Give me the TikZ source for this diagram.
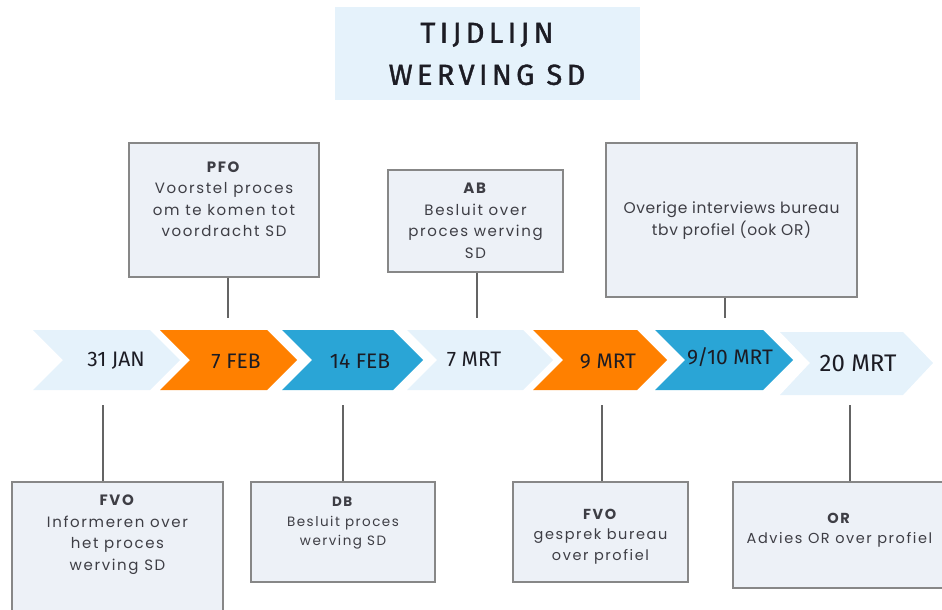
\documentclass[tikz,border=0pt]{standalone}
\usepackage{fontspec}
\usepackage{xcolor}
\usepackage{tikz}
\usetikzlibrary{positioning}
\newfontfamily\titlefont[LetterSpace=15, FakeBold=1.2]{Fira Sans}
\newfontfamily\datefont{Fira Sans}
\newfontfamily\cardfont[LetterSpace=11]{Poppins}
\newfontfamily\plainfont[LetterSpace=4]{Poppins}
\definecolor{wsdlight}{RGB}{229,242,251}
\definecolor{wsdorange}{RGB}{255,128,0}
\definecolor{wsdblue}{RGB}{42,165,214}
\definecolor{wsdcard}{RGB}{237,241,247}
\definecolor{wsdedge}{RGB}{135,135,135}
\definecolor{wsdlink}{RGB}{100,100,100}
\definecolor{wsdink}{RGB}{28,28,36}

\begin{document}
\begin{tikzpicture}[x=1pt, y=-1pt, line join=miter,
  card/.style={draw=wsdedge, fill=wsdcard, line width=1.3pt, inner sep=0pt},
  cardtext/.style={inner sep=0pt, align=center, text=wsdink!85,
    font=\cardfont\fontsize{15}{21.5}\selectfont},
  datelabel/.style={inner sep=0pt, text=wsdink, font=\datefont\fontsize{21}{24}\selectfont},
  link/.style={draw=wsdlink, line width=1.3pt}]

\useasboundingbox (0,0) rectangle (942,610);

%% title block
\fill[wsdlight] (335,7) rectangle (640,100);
\node[inner sep=0pt, align=center, text=wsdink,
  font=\titlefont\fontsize{29}{42}\selectfont] (title) at (487,54) {TIJDLIJN\\WERVING SD};

%% timeline chevrons -- from left to right
\fill[wsdlight]  (33,330)  -- (150,330) -- (180,360) -- (150,390) -- (33,390)  -- (63,360)  -- cycle;
\fill[wsdorange] (160,330) -- (267,330) -- (297,360) -- (267,390) -- (160,390) -- (190,360) -- cycle;
\fill[wsdblue]   (282,330) -- (393,330) -- (423,360) -- (393,390) -- (282,390) -- (312,360) -- cycle;
\fill[wsdlight]  (407,330) -- (523,330) -- (553,360) -- (523,390) -- (407,390) -- (437,360) -- cycle;
\fill[wsdorange] (533,330) -- (637,330) -- (667,360) -- (637,390) -- (533,390) -- (563,360) -- cycle;
\fill[wsdblue]   (655,330) -- (763,330) -- (793,360) -- (763,390) -- (655,390) -- (685,360) -- cycle;
\fill[wsdlight]  (780,332) -- (903,332) -- (933,363) -- (903,395) -- (780,395) -- (810,363) -- cycle;

%% dates on the chevrons
\node[datelabel] (jan31) at (116,361) {31 JAN};
\node[datelabel] (feb7)  at (236,361) {7 FEB};
\node[datelabel] (feb14) at (360,361) {14 FEB};
\node[datelabel] (mrt7)  at (474,359) {7 MRT};
\node[datelabel] (mrt9)  at (608,361) {9 MRT};
\node[datelabel] (mrt910) at (730,357) {9/10 MRT};
\node[datelabel, font=\datefont\fontsize{24}{26}\selectfont] (mrt20) at (858,363) {20 MRT};

%% cards above the timeline
\node[card, minimum width=190pt, minimum height=134pt] (pfo) at (224,210) {};
\node[cardtext, below=19pt of pfo.north] (pfotext)
  {\textbf{PFO}\\Voorstel proces\\om te komen tot\\voordracht SD};

\node[card, minimum width=175pt, minimum height=102pt] (ab) at (475.5,221) {};
\node[cardtext, below=13.5pt of ab.north] (abtext)
  {\textbf{AB}\\Besluit over\\proces werving\\SD};

\node[card, minimum width=251pt, minimum height=154pt] (overig) at (731.5,220) {};
\node[cardtext, font=\plainfont\fontsize{15.5}{22}\selectfont, below=59pt of overig.north] (overigtext)
  {Overige interviews bureau\\tbv profiel (ook OR)};

%% cards below the timeline
\node[card, minimum width=211pt, minimum height=132pt] (fvoa) at (117.5,548) {};
\node[cardtext, below=13.5pt of fvoa.north] (fvoatext)
  {\textbf{FVO}\\Informeren over\\het proces\\werving SD};

\node[card, minimum width=184pt, minimum height=100pt] (db) at (343,532) {};
\node[cardtext, font=\cardfont\fontsize{13.5}{19.5}\selectfont, below=15.5pt of db.north] (dbtext)
  {\textbf{DB}\\Besluit proces\\werving SD};

\node[card, minimum width=175pt, minimum height=100pt] (fvob) at (600.5,532) {};
\node[cardtext, font=\cardfont\fontsize{14.5}{20.5}\selectfont, below=27.5pt of fvob.north] (fvobtext)
  {\textbf{FVO}\\gesprek bureau\\over profiel};

\node[card, minimum width=213pt, minimum height=106pt] (or) at (839.5,535) {};
\node[cardtext, font=\cardfont\fontsize{14.5}{20.5}\selectfont, below=31.5pt of or.north] (ortext)
  {\textbf{OR}\\Advies OR over profiel};

%% connector ends next to the chevrons
\coordinate (feb7head)  at (228,318);
\coordinate (mrt7head)  at (477,318);
\coordinate (mrt910head) at (725,318);
\coordinate (jan31foot) at (103,405);
\coordinate (feb14foot) at (343,405);
\coordinate (mrt9foot)  at (602,405);
\coordinate (mrt20foot) at (850,405);

%% connectors
\draw[link] (pfo.south -| feb7head) -- (feb7head);
\draw[link] (ab.south -| mrt7head) -- (mrt7head);
\draw[link] (overig.south -| mrt910head) -- (mrt910head);
\draw[link] (jan31foot) -- (fvoa.north -| jan31foot);
\draw[link] (feb14foot) -- (db.north -| feb14foot);
\draw[link] (mrt9foot) -- (fvob.north -| mrt9foot);
\draw[link] (mrt20foot) -- (or.north -| mrt20foot);

\end{tikzpicture}
\end{document}
